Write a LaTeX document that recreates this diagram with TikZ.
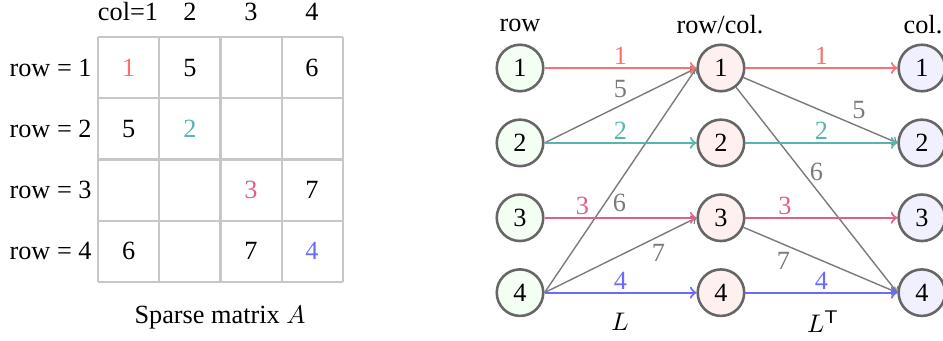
\documentclass[tikz,border=0pt]{standalone}
\usepackage{amsmath}
\usepackage{fontspec}
\setmainfont{Liberation Serif}
\usetikzlibrary{positioning}

\definecolor{cred}{HTML}{FF6E6E}
\definecolor{cteal}{HTML}{5AB4AE}
\definecolor{cpink}{HTML}{E06088}
\definecolor{cblue}{HTML}{6A6AFF}
\definecolor{cgray}{HTML}{7A7A7A}

\tikzset{
  vertex/.style={circle, draw=black!60, line width=1.1pt, minimum size=20pt, inner sep=0pt},
  rownode/.style={vertex, fill=green!5},
  midnode/.style={vertex, fill=red!6},
  colnode/.style={vertex, fill=blue!6},
  gridline/.style={draw=black!22, line width=1pt},
  lab/.style={inner sep=1pt},
  hedge/.style={line width=0.9pt},
  gedge/.style={cgray, line width=0.6pt},
}

\begin{document}
\fontsize{11.3}{13.5}\selectfont
\begin{tikzpicture}[x=0.43pt, y=-0.43pt, node distance=11.1pt and 65.3pt]
\useasboundingbox (0,0) rectangle (943,341);

% sparse matrix
\foreach \i in {0,...,4} {
  \draw[gridline] (98+61.25*\i,37) -- (98+61.25*\i,282);
  \draw[gridline] (98,37+61.25*\i) -- (343,37+61.25*\i);
}
\node(c1) at (128,12) {col=1};
\node(c2) at (190,12) {2};
\node(c3) at (251,12) {3};
\node(c4) at (312,12) {4};
\node[anchor=east, inner sep=0pt](r1) at (92,68) {row = 1};
\node[anchor=east, inner sep=0pt](r2) at (92,129) {row = 2};
\node[anchor=east, inner sep=0pt](r3) at (92,190) {row = 3};
\node[anchor=east, inner sep=0pt](r4) at (92,251) {row = 4};
\node[text=cred](a11) at (128.6,68) {1};
\node(a12) at (190,68) {5};
\node(a14) at (312,68) {6};
\node(a21) at (128.6,129) {5};
\node[text=cteal](a22) at (190,129) {2};
\node[text=cpink](a33) at (251,190) {3};
\node(a34) at (312,190) {7};
\node(a41) at (128.6,251) {6};
\node(a43) at (251,251) {7};
\node[text=cblue](a44) at (312,251) {4};
\node(A) at (220,318) {Sparse matrix $A$};

% graph
\node[rownode](l1) at (520,68) {1};
\node[rownode](l2)[below = of l1] {2};
\node[rownode](l3)[below = of l2] {3};
\node[rownode](l4)[below = of l3] {4};
\node[midnode](m1)[right = of l1] {1};
\node[midnode](m2)[below = of m1] {2};
\node[midnode](m3)[below = of m2] {3};
\node[midnode](m4)[below = of m3] {4};
\node[colnode](k1)[right = of m1] {1};
\node[colnode](k2)[below = of k1] {2};
\node[colnode](k3)[below = of k2] {3};
\node[colnode](k4)[below = of k3] {4};

\node(hrow) at (520,25) {row};
\node(hmid) at (720,25) {row/col.};
\node(hcol) at (923,25) {col.};
\node(L) at (620,322) {$L$};
\node(LT) at (823,322) {$L^{\mathsf{T}}$};

\path[->, every node/.style={lab}]
(l2.east) edge[gedge] node[above, pos=0.5, text=cgray, inner sep=3pt] {5} (m1.west)
(l4.east) edge[gedge] node[right, pos=0.4, text=cgray, inner sep=3pt] {6} (m1.west)
(l4.east) edge[gedge] node[below, pos=0.75, text=cgray, inner sep=3pt] {7} (m3.west)
(m1) edge[gedge] node[above, pos=0.75, text=cgray, inner sep=3pt] {5} (k2.west)
(m1) edge[gedge] node[right, pos=0.41, text=cgray, inner sep=3pt] {6} (k4.west)
(m3) edge[gedge] node[below, pos=0.26, text=cgray, inner sep=3pt] {7} (k4.west)
(l1) edge[hedge, cred] node[above, text=cred] {1} (m1)
(l2) edge[hedge, cteal] node[above, text=cteal] {2} (m2)
(l3) edge[hedge, cpink] node[above, pos=0.25, text=cpink] {3} (m3)
(l4) edge[hedge, cblue] node[above, text=cblue] {4} (m4)
(m1) edge[hedge, cred] node[above, text=cred] {1} (k1)
(m2) edge[hedge, cteal] node[above, text=cteal] {2} (k2)
(m3) edge[hedge, cpink] node[above, pos=0.26, text=cpink] {3} (k3)
(m4) edge[hedge, cblue] node[above, text=cblue] {4} (k4);
\end{tikzpicture}
\end{document}
